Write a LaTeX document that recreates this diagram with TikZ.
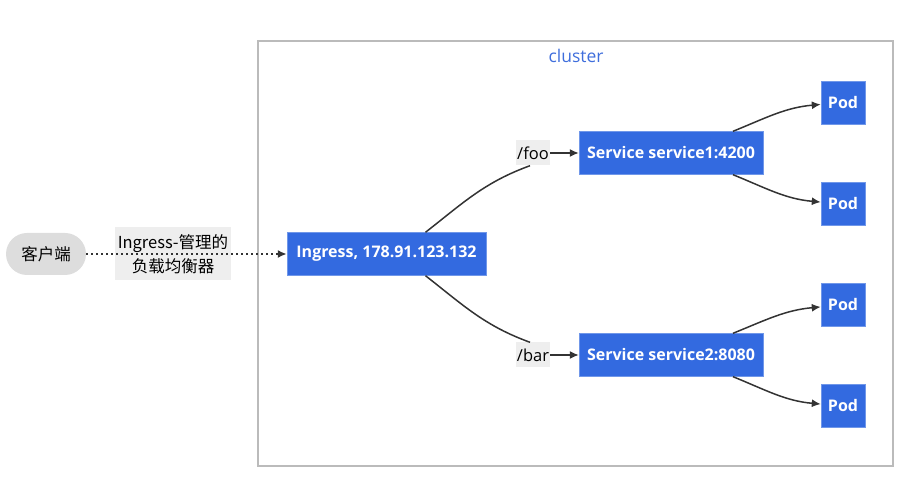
\documentclass[tikz,border=0pt]{standalone}
\usepackage{fontspec}
\setmainfont{Open Sans}
\newfontfamily\cjk{Noto Sans CJK SC}
\usetikzlibrary{arrows.meta,positioning}
\definecolor{k8sblue}{HTML}{336AE0}
\definecolor{edgegray}{HTML}{333333}
\definecolor{clustergray}{HTML}{BBBBBB}
\definecolor{labelbg}{HTML}{EEEEEE}
\definecolor{clientgray}{HTML}{DDDDDD}
\definecolor{clusterblue}{HTML}{3F6EDC}
\tikzset{k8sbox/.style={fill=k8sblue, draw=k8sblue!70!white, text=white, inner sep=0pt,
  minimum height=43pt, font=\fontsize{16}{19}\selectfont\bfseries},
  pathlabel/.style={fill=labelbg, inner sep=1pt, minimum height=25pt, font=\fontsize{16.5}{19}\selectfont},
  k8sarrow/.style={-{Latex[length=9pt,width=8pt]}, edgegray, line width=1.5pt},
  k8s/.style={x=1pt, y=-1pt}}

\begin{document}
\begin{tikzpicture}[k8s]
    \useasboundingbox (0,0) rectangle (908,502);
    \draw[clustergray, line width=2pt] (258,41) rectangle (893,466);
    \node[text=clusterblue, font=\fontsize{17.5}{20}\selectfont] (cl) at (576,56) {cluster};
    \node[fill=clientgray, rounded corners=21pt, minimum width=80pt, minimum height=42pt, inner sep=0pt,
      font=\cjk\fontsize{16.5}{19}\selectfont] (client) at (46,254) {客户端};
    \node[k8sbox, minimum width=199pt] (ingress) at (386.5,254) {Ingress, 178.91.123.132};
    \node[k8sbox, minimum width=184pt] (svc1) at (671,153) {Service service1:4200};
    \node[k8sbox, minimum width=184pt] (svc2) at (671,355) {Service service2:8080};
    \node[k8sbox, minimum width=44pt] (pod1) at (843,102.5) {Pod};
    \node[k8sbox, minimum width=44pt] (pod2) at (843,204) {Pod};
    \node[k8sbox, minimum width=44pt] (pod3) at (843,305) {Pod};
    \node[k8sbox, minimum width=44pt] (pod4) at (843,406) {Pod};
    \node[pathlabel, minimum width=34pt] (foo) at (533,153) {/foo};
    \node[pathlabel, minimum width=34pt] (bar) at (533,355) {/bar};
    \node[fill=labelbg, align=center, inner sep=1pt, minimum width=116pt, minimum height=53pt,
      font=\cjk\fontsize{16.5}{24}\selectfont] (lb) at (173,254) {Ingress-管理的\\负载均衡器};
    % client to ingress
    \draw[k8sarrow, dash pattern=on 2pt off 3pt, line width=2pt] (client) -- (ingress);
    % ingress to services
    \draw[edgegray, line width=1.5pt] ([xshift=39pt]ingress.north) to[out=38, in=200] ([xshift=-3pt]foo.south);
    \draw[k8sarrow] (foo) -- (svc1);
    \draw[edgegray, line width=1.5pt] ([xshift=39pt]ingress.south) to[out=-38, in=160] ([xshift=-3pt]bar.north);
    \draw[k8sarrow] (bar) -- (svc2);
    % services to pods
    \draw[k8sarrow] ([xshift=62pt]svc1.north) to[out=22, in=185] (pod1);
    \draw[k8sarrow] ([xshift=62pt]svc1.south) to[out=-22, in=175] (pod2);
    \draw[k8sarrow] ([xshift=62pt]svc2.north) to[out=22, in=185] (pod3);
    \draw[k8sarrow] ([xshift=62pt]svc2.south) to[out=-22, in=175] (pod4);
  \end{tikzpicture}
\end{document}
